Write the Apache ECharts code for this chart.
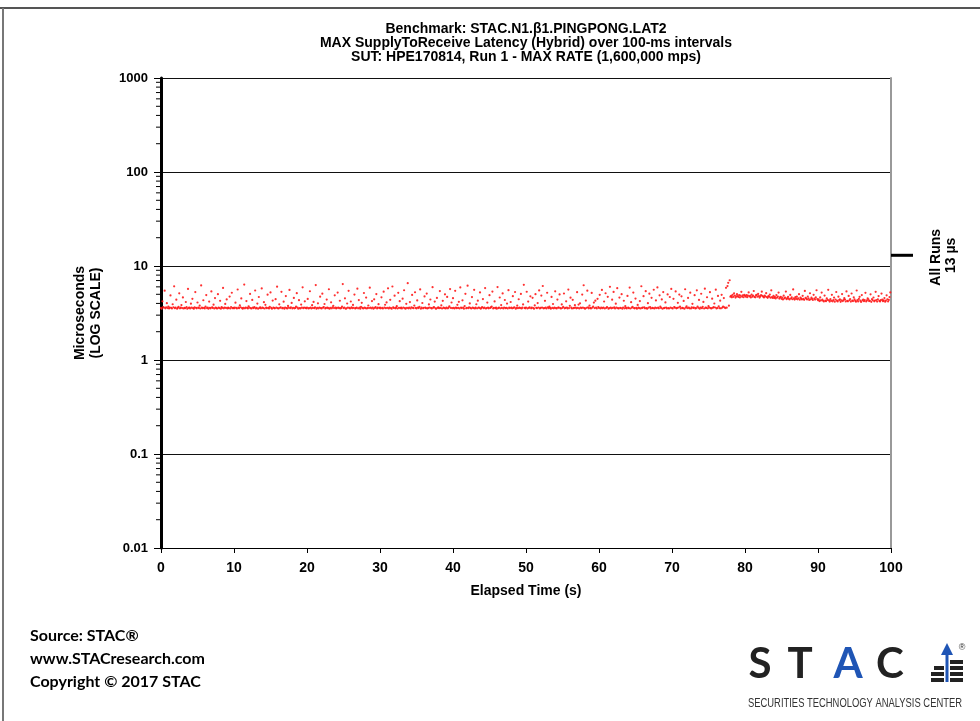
<!DOCTYPE html>
<html>
<head>
<meta charset="utf-8">
<title>STAC.N1.β1.PINGPONG.LAT2</title>
<script src="https://cdn.jsdelivr.net/npm/echarts@6.0.0/dist/echarts.min.js"></script>
<style>
    html, body { margin: 0; padding: 0; background: #fff; }
    #latencyChart { width: 980px; height: 721px; }
</style>
</head>
<body>
<div id="latencyChart"></div>
<script>
// MAX SupplyToReceive 延迟 (µs)，每 100 ms 一个点，每个数组 10 秒
var lat00 = [3.58,3.52,4.21,3.66,3.61,5.47,3.55,3.63,4.02,3.57,3.71,3.54,3.60,4.86,3.59,3.53,3.92,3.64,6.08,3.56,
    3.62,4.38,3.51,3.58,3.67,5.12,3.55,3.60,3.84,3.57,4.63,3.53,3.59,3.56,4.14,3.65,3.52,5.71,3.58,3.61,
    3.54,3.97,3.60,4.47,3.56,3.52,3.63,5.28,3.59,3.55,4.09,3.62,3.57,3.78,3.53,6.21,3.60,3.56,4.32,3.58,
    3.54,3.69,4.91,3.57,3.61,3.52,4.18,3.59,3.55,5.36,3.63,3.58,3.88,3.54,4.56,3.60,3.56,3.53,5.02,3.61,
    3.57,4.26,3.52,3.65,3.59,5.84,3.55,3.62,3.95,3.58,4.41,3.54,3.60,3.57,4.73,3.53,3.66,5.19,3.56,3.59];
var lat10 = [3.55,3.61,4.07,3.58,3.53,5.62,3.60,3.56,3.81,3.64,4.52,3.57,3.52,3.59,6.34,3.55,3.62,4.24,3.58,3.54,
    3.73,3.60,5.05,3.56,3.53,4.36,3.61,3.57,3.65,5.49,3.54,3.59,3.98,3.52,4.68,3.58,3.63,3.55,5.77,3.60,
    3.57,4.12,3.53,3.86,3.61,3.56,4.95,3.59,3.54,3.68,5.23,3.58,3.52,4.29,3.62,3.57,3.55,4.44,3.60,6.02,
    3.56,3.53,3.91,3.59,3.64,5.31,3.55,3.58,4.17,3.52,3.61,4.79,3.57,3.54,3.76,3.60,5.56,3.56,3.63,4.05,
    3.53,3.59,4.58,3.55,3.58,3.69,5.14,3.61,3.52,4.33,3.57,3.54,3.89,3.60,5.93,3.56,3.62,4.21,3.58,3.55];
var lat20 = [3.60,4.46,3.54,3.57,5.39,3.61,3.53,3.83,3.58,4.15,3.56,3.63,6.27,3.52,3.59,4.01,3.55,3.62,4.72,3.57,
    3.54,5.08,3.60,3.66,3.94,3.53,3.58,4.39,3.61,3.56,5.66,3.52,3.59,4.11,3.55,3.64,3.77,3.57,4.88,3.60,
    3.53,3.58,5.21,3.62,3.56,4.27,3.54,3.59,3.70,6.42,3.57,3.61,4.53,3.52,3.55,3.99,3.60,5.45,3.58,3.54,
    4.19,3.63,3.56,3.85,3.59,4.97,3.53,3.57,3.62,5.74,3.55,4.34,3.60,3.52,3.67,4.06,3.58,3.54,5.16,3.61,
    3.56,4.61,3.53,3.59,3.80,3.57,5.88,3.62,3.55,4.23,3.60,3.52,4.42,3.58,3.65,5.03,3.54,3.61,3.93,3.57];
var lat30 = [3.62,3.55,4.64,3.58,3.53,5.33,3.60,3.87,3.56,4.10,3.59,5.79,3.54,3.61,4.37,3.57,3.52,6.05,3.63,3.58,
    4.83,3.55,3.60,3.74,3.53,5.18,3.59,4.22,3.56,3.62,3.54,4.49,3.61,5.52,3.57,3.52,3.96,3.58,6.56,3.55,
    3.60,4.13,3.53,3.64,4.92,3.59,3.56,3.79,5.26,3.58,3.54,4.30,3.61,3.57,3.68,5.63,3.52,3.60,4.04,3.55,
    3.59,4.75,3.62,3.56,5.09,3.53,3.58,3.90,3.61,4.40,3.57,3.54,5.95,3.60,3.65,4.18,3.55,3.52,4.57,3.59,
    3.63,3.56,5.41,3.58,3.82,3.53,4.26,3.61,3.57,5.00,3.54,3.60,4.69,3.55,3.62,3.72,5.68,3.58,4.09,3.56];
var lat40 = [4.55,3.59,3.53,5.44,3.61,3.56,3.86,3.58,4.16,3.54,5.91,3.62,3.57,4.31,3.60,3.52,3.75,5.06,3.55,3.59,
    6.18,3.56,3.63,4.00,3.58,3.53,4.67,3.61,3.57,5.58,3.54,3.60,3.92,3.55,4.28,3.62,3.58,5.24,3.52,3.59,
    3.66,4.45,3.56,3.61,5.82,3.53,3.57,4.08,3.60,3.55,4.89,3.58,3.63,3.71,5.35,3.54,3.59,4.20,3.56,3.61,
    3.52,5.97,3.57,3.60,4.62,3.55,3.84,3.58,5.11,3.53,3.62,4.35,3.56,3.59,3.98,3.54,5.53,3.61,3.57,4.14,
    3.60,3.55,4.78,3.58,3.64,5.29,3.52,3.59,3.79,3.56,4.43,3.61,3.57,5.04,3.54,3.60,3.90,6.31,3.58,3.55];
var lat50 = [3.61,5.32,3.54,4.18,3.58,3.63,4.76,3.55,3.60,4.59,3.57,3.52,3.81,5.01,3.59,3.56,4.03,3.62,5.50,3.54,
    3.58,4.84,3.61,6.13,3.55,3.57,4.26,3.60,3.53,5.19,3.64,3.56,3.71,3.59,3.52,4.69,3.58,3.94,3.55,3.61,
    5.38,3.57,3.54,4.39,3.60,3.62,4.98,3.56,3.53,3.90,3.59,3.67,5.10,3.55,3.58,4.21,3.61,3.54,5.61,3.57,
    3.77,4.60,3.60,3.53,4.37,3.56,3.59,3.83,3.62,3.55,5.27,3.58,3.89,3.54,4.01,3.61,3.57,4.97,3.60,6.24,
    3.56,3.52,4.29,3.59,5.46,3.63,3.55,3.79,3.58,3.54,5.17,3.61,3.70,4.08,3.57,4.28,3.60,3.53,4.48,3.66];
var lat60 = [3.58,4.93,3.53,3.60,5.57,3.56,3.62,4.19,3.54,5.13,3.59,3.65,4.70,3.52,3.57,6.01,3.61,3.55,4.38,3.58,
    5.30,3.63,3.54,3.97,3.60,5.81,3.56,3.53,4.61,3.59,3.57,5.02,3.52,3.62,4.27,3.55,3.74,3.58,3.54,4.81,
    3.61,3.56,5.89,3.53,4.12,3.60,3.67,5.22,3.57,3.55,4.50,3.59,3.52,3.85,3.62,3.56,4.23,3.54,6.09,3.58,
    3.61,4.77,3.63,3.55,5.40,3.57,3.52,4.02,3.60,5.08,3.66,3.54,4.59,3.58,3.56,5.59,3.53,3.61,4.30,3.57,
    5.92,3.60,3.55,4.87,3.69,3.58,4.41,3.52,5.28,3.56,3.59,4.10,3.62,3.54,4.99,3.57,3.53,4.68,3.60,5.71];
var lat70 = [3.57,3.53,4.47,3.66,3.60,5.37,3.55,3.58,4.06,3.62,4.97,3.69,3.54,4.76,3.59,3.56,4.25,3.52,5.66,3.61,
    3.73,3.57,4.58,3.60,3.55,5.20,3.53,3.64,3.96,3.58,3.61,4.89,3.54,3.57,5.51,3.71,3.59,4.36,3.52,3.62,
    5.07,3.56,3.68,4.15,3.53,5.74,3.60,3.58,4.65,3.55,3.74,3.61,5.27,3.57,3.54,4.49,3.59,3.66,3.99,3.62,
    5.60,3.53,3.58,4.80,3.72,3.56,4.28,3.55,4.94,3.61,3.69,4.56,3.63,3.57,5.86,3.60,6.12,6.62,3.78,7.05,
    4.72,4.81,4.64,4.93,4.70,5.12,4.84,4.61,4.75,5.02,4.79,4.68,4.90,4.63,4.83,5.31,4.71,4.86,4.65,4.92];
var lat80 = [4.82,4.73,4.91,4.66,4.85,5.24,4.74,4.80,4.62,4.95,4.71,4.83,5.42,4.69,4.64,4.87,4.93,4.72,5.05,4.79,
    4.61,4.76,4.89,5.33,4.81,4.70,4.63,4.84,4.74,5.14,4.68,4.59,4.78,4.72,4.96,4.60,5.51,4.67,4.57,4.80,
    4.58,4.69,4.52,4.90,4.61,4.73,5.22,4.50,4.63,4.71,4.48,4.62,4.41,4.83,4.53,4.60,5.34,4.44,4.55,4.70,
    4.49,4.40,4.92,4.51,4.64,4.43,5.63,4.52,4.39,4.66,4.47,4.72,4.42,4.54,5.01,4.38,4.61,4.50,4.41,4.82,
    4.46,4.37,5.43,4.58,4.49,4.40,4.74,4.53,4.36,5.13,4.42,4.60,4.47,4.35,4.94,4.51,4.39,4.63,5.52,4.45];
var lat90 = [4.32,4.41,4.24,4.63,4.30,5.21,4.38,4.27,4.19,4.84,4.29,4.22,4.52,4.36,5.58,4.31,4.18,4.44,4.26,4.93,
    4.21,4.33,4.61,4.17,4.40,5.29,4.28,4.20,4.72,4.34,4.43,4.16,4.30,5.03,4.23,4.35,4.55,4.39,4.19,5.37,
    4.27,4.21,4.81,4.32,4.45,4.18,5.10,4.29,4.24,4.64,4.42,4.26,4.17,5.49,4.33,4.20,4.46,4.70,4.28,4.15,
    4.91,4.31,4.40,4.22,4.34,5.18,4.19,4.30,4.53,4.41,4.23,4.27,5.00,4.16,4.44,4.32,4.62,4.21,4.29,5.31,
    4.35,4.18,4.43,4.79,4.26,4.20,4.33,5.09,4.38,4.22,4.30,4.56,4.17,4.28,4.88,4.42,4.19,4.36,4.67,5.24];

var sampleStep = 0.1;          // 100-ms intervals
var allRunsMax = 13;           // All Runs 最大值 (µs)
var yTickLabels = ['0.01', '0.1', '1', '10', '100', '1000'];
var minorDecades = [0.01, 0.1, 1, 10, 100];
var minorSteps = [2, 3, 4, 5, 6, 7, 8, 9];

var FONT = '"Liberation Sans", Arial, sans-serif';
var LOGO_SUB = 'SECURITIES TECHNOLOGY ANALYSIS CENTER';

// 量一下文字宽度, 用来把 logo 下面的小字压窄
function textWidth(text, font) {
    var ctx = document.createElement('canvas').getContext('2d');
    ctx.font = font;
    return ctx.measureText(text).width;
}

function latencyChartRender() {
    var chart = echarts.init(document.getElementById('latencyChart'));

    var latency = [].concat(lat00, lat10, lat20, lat30, lat40, lat50, lat60, lat70, lat80, lat90);
    var points = latency.map(function (v, i) {
        return [Math.round(i * sampleStep * 10) / 10, v];
    });

    // 对数轴次刻度 2..9
    var minorTicks = [];
    minorDecades.forEach(function (d) {
        minorSteps.forEach(function (m) {
            minorTicks.push([0, Math.round(d * m * 1000) / 1000]);
        });
    });

    function txt(x, y, text, font, opt) {
        opt = opt || {};
        return {
            type: 'text', x: x, y: y, rotation: opt.rotation || 0,
            scaleX: opt.scaleX || 1, silent: true,
            style: {
                text: text, font: font, fill: opt.fill || '#000',
                align: opt.align || 'center', verticalAlign: 'middle',
                textAlign: opt.align || 'center', textVerticalAlign: 'middle',
                lineHeight: opt.lineHeight || 14
            }
        };
    }

    var subFont = '13px ' + FONT;
    var subScale = 214 / textWidth(LOGO_SUB, subFont);

    var option = {
        animation: false,
        backgroundColor: '#fff',
        grid: { left: 161, right: 89, top: 78, bottom: 173 },
        xAxis: {
            type: 'value', min: 0, max: 100, interval: 10,
            axisLine: { show: true, lineStyle: { color: '#000', width: 1 } },
            axisTick: { show: true, length: 5, lineStyle: { color: '#000' } },
            axisLabel: { color: '#000', fontFamily: FONT, fontWeight: 'bold', fontSize: 14, margin: 13 },
            splitLine: { show: false }
        },
        yAxis: [{
            type: 'log', logBase: 10, min: 0.01, max: 1000, splitNumber: 5,
            axisLine: { show: true, lineStyle: { color: '#000', width: 3 } },
            axisTick: { show: true, length: 7, lineStyle: { color: '#000' } },
            axisLabel: {
                color: '#000', fontFamily: FONT, fontWeight: 'bold', fontSize: 13, margin: 13,
                formatter: function (v) {
                    return yTickLabels[Math.round(Math.log10(v)) + 2];
                }
            },
            splitLine: { show: true, lineStyle: { color: '#111', width: 1 } }
        }, {
            type: 'log', logBase: 10, min: 0.01, max: 1000, position: 'right',
            axisLine: { show: true, lineStyle: { color: '#999', width: 2 } },
            axisTick: { show: false }, axisLabel: { show: false }, splitLine: { show: false }
        }],
        series: [{
            type: 'scatter',
            data: points,
            symbol: 'circle',
            symbolSize: 2.2,
            itemStyle: { color: '#ff1a1a', opacity: 0.9 },
            silent: true,
            z: 3
        }, {
            // 次刻度
            type: 'custom',
            data: minorTicks,
            clip: false,
            silent: true,
            renderItem: function (params, api) {
                var p = api.coord([0, api.value(1)]);
                return {
                    type: 'line',
                    shape: { x1: p[0] - 5, y1: p[1], x2: p[0], y2: p[1] },
                    style: { stroke: '#000', lineWidth: 1 }
                };
            },
            z: 4
        }, {
            // All Runs 标记
            type: 'custom',
            data: [[100, allRunsMax]],
            clip: false,
            silent: true,
            renderItem: function (params, api) {
                var p = api.coord([api.value(0), api.value(1)]);
                return {
                    type: 'group',
                    children: [{
                        type: 'rect',
                        shape: { x: p[0], y: p[1] - 1.5, width: 22, height: 3 },
                        style: { fill: '#000' }
                    },
                    txt(p[0] + 45, p[1] + 2, 'All Runs', 'bold 14px ' + FONT, { rotation: Math.PI / 2 }),
                    txt(p[0] + 60, p[1], allRunsMax + ' µs', 'bold 14px ' + FONT, { rotation: Math.PI / 2 })]
                };
            },
            z: 5
        }],
        graphic: [
            // 外框
            { type: 'line', silent: true, shape: { x1: 0, y1: 8, x2: 980, y2: 8 }, style: { stroke: '#555', lineWidth: 2 } },
            { type: 'line', silent: true, shape: { x1: 3, y1: 8, x2: 3, y2: 721 }, style: { stroke: '#777', lineWidth: 2 } },
            // 标题
            txt(526, 29, 'Benchmark: STAC.N1.β1.PINGPONG.LAT2', 'bold 14px ' + FONT),
            txt(526, 43, 'MAX SupplyToReceive Latency (Hybrid) over 100-ms intervals', 'bold 14px ' + FONT),
            txt(526, 57, 'SUT: HPE170814, Run 1 - MAX RATE (1,600,000 mps)', 'bold 14px ' + FONT),
            // 坐标轴名
            txt(88, 313, 'Microseconds\n(LOG SCALE)', 'bold 14px ' + FONT, { rotation: Math.PI / 2, lineHeight: 16 }),
            txt(526, 591, 'Elapsed Time (s)', 'bold 14px ' + FONT),
            // 来源
            txt(30, 636, 'Source: STAC®', 'bold 16px Lato, sans-serif', { align: 'left' }),
            txt(30, 659, 'www.STACresearch.com', 'bold 16px Lato, sans-serif', { align: 'left' }),
            txt(30, 682, 'Copyright © 2017 STAC', 'bold 16px Lato, sans-serif', { align: 'left' }),
            // 标志
            txt(760, 664, 'S', 'bold 42px Lato, sans-serif', { fill: '#222' }),
            txt(800, 664, 'T', 'bold 42px Lato, sans-serif', { fill: '#222' }),
            txt(848, 664, 'A', 'bold 42px Lato, sans-serif', { fill: '#1f55b5' }),
            txt(890, 664, 'C', 'bold 42px Lato, sans-serif', { fill: '#222' }),
            txt(748, 703, LOGO_SUB, subFont, { align: 'left', fill: '#333', scaleX: subScale }),
            { type: 'rect', silent: true, shape: { x: 950, y: 660, width: 13, height: 4 }, style: { fill: '#222' } },
            { type: 'rect', silent: true, shape: { x: 950, y: 666, width: 13, height: 4 }, style: { fill: '#222' } },
            { type: 'rect', silent: true, shape: { x: 950, y: 672, width: 13, height: 4 }, style: { fill: '#222' } },
            { type: 'rect', silent: true, shape: { x: 950, y: 678, width: 13, height: 4 }, style: { fill: '#222' } },
            { type: 'rect', silent: true, shape: { x: 934, y: 666, width: 10, height: 4 }, style: { fill: '#222' } },
            { type: 'rect', silent: true, shape: { x: 931, y: 672, width: 13, height: 4 }, style: { fill: '#222' } },
            { type: 'rect', silent: true, shape: { x: 931, y: 678, width: 13, height: 4 }, style: { fill: '#222' } },
            { type: 'line', silent: true, shape: { x1: 947, y1: 652, x2: 947, y2: 682 }, style: { stroke: '#1f55b5', lineWidth: 3 } },
            { type: 'polygon', silent: true, shape: { points: [[941, 655], [947, 643], [953, 655]] }, style: { fill: '#1f55b5' } },
            txt(962, 648, '®', '9px ' + FONT, { fill: '#333' })
        ]
    };

    chart.setOption(option);
}

latencyChartRender();
</script>
</body>
</html>
